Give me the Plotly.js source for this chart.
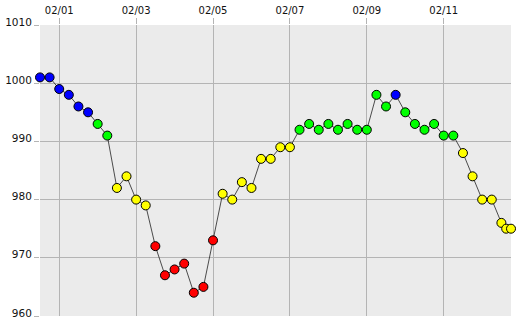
<!DOCTYPE html>
<html>
<head>
<meta charset="utf-8">
<script src="https://cdn.plot.ly/plotly-3.0.1.min.js"></script>
<style>html,body{margin:0;padding:0;background:#fff;}#chart{width:531px;height:326px;}</style>
</head>
<body>
<div id="chart"></div>
<script>
const times = [
  "2020-01-31 12:00","2020-01-31 18:00",
  "2020-02-01 00:00","2020-02-01 06:00","2020-02-01 12:00","2020-02-01 18:00",
  "2020-02-02 00:00","2020-02-02 06:00","2020-02-02 12:00","2020-02-02 18:00",
  "2020-02-03 00:00","2020-02-03 06:00","2020-02-03 12:00","2020-02-03 18:00",
  "2020-02-04 00:00","2020-02-04 06:00","2020-02-04 12:00","2020-02-04 18:00",
  "2020-02-05 00:00","2020-02-05 06:00","2020-02-05 12:00","2020-02-05 18:00",
  "2020-02-06 00:00","2020-02-06 06:00","2020-02-06 12:00","2020-02-06 18:00",
  "2020-02-07 00:00","2020-02-07 06:00","2020-02-07 12:00","2020-02-07 18:00",
  "2020-02-08 00:00","2020-02-08 06:00","2020-02-08 12:00","2020-02-08 18:00",
  "2020-02-09 00:00","2020-02-09 06:00","2020-02-09 12:00","2020-02-09 18:00",
  "2020-02-10 00:00","2020-02-10 06:00","2020-02-10 12:00","2020-02-10 18:00",
  "2020-02-11 00:00","2020-02-11 06:00","2020-02-11 12:00","2020-02-11 18:00",
  "2020-02-12 00:00","2020-02-12 06:00","2020-02-12 12:00","2020-02-12 15:00","2020-02-12 18:00"
];
const pressure = [
  1001,1001,999,998,996,995,993,991,
  982,984,980,979,972,967,968,969,964,965,973,
  981,980,983,982,987,987,989,989,
  992,993,992,993,992,993,992,992,
  998,996,998,995,993,992,993,991,991,
  988,984,980,980,976,975,975
];
const pointColors = [
  "#0000ff","#0000ff","#0000ff","#0000ff","#0000ff","#0000ff","#00ff00","#00ff00",
  "#ffff00","#ffff00","#ffff00","#ffff00","#ff0000","#ff0000","#ff0000","#ff0000","#ff0000","#ff0000","#ff0000",
  "#ffff00","#ffff00","#ffff00","#ffff00","#ffff00","#ffff00","#ffff00","#ffff00",
  "#00ff00","#00ff00","#00ff00","#00ff00","#00ff00","#00ff00","#00ff00","#00ff00",
  "#00ff00","#00ff00","#0000ff","#00ff00","#00ff00","#00ff00","#00ff00","#00ff00","#00ff00",
  "#ffff00","#ffff00","#ffff00","#ffff00","#ffff00","#ffff00","#ffff00"
];
const xRange = ["2020-01-31 12:00","2020-02-12 18:00"];
const yRange = [960,1010];

const trace = {
  x: times, y: pressure, type: "scatter", mode: "lines+markers",
  cliponaxis: false,
  line: {color: "#222222", width: 0.8},
  marker: {size: 9, color: pointColors, line: {color: "#000000", width: 1}},
  hoverinfo: "x+y"
};
const gridC = "#b4b4b4";
const layout = {
  width: 531, height: 326,
  margin: {l: 40, r: 20, t: 25, b: 10},
  paper_bgcolor: "#ffffff", plot_bgcolor: "#ebebeb",
  showlegend: false,
  font: {family: "DejaVu Sans, sans-serif", size: 10.5, color: "#111111"},
  xaxis: {
    type: "date", side: "top", range: xRange,
    tick0: "2020-02-01", dtick: 2*86400000, tickformat: "%m/%d",
    showgrid: true, gridcolor: gridC, gridwidth: 1,
    ticks: "outside", ticklen: 6, tickcolor: gridC, tickwidth: 1,
    showline: false, zeroline: false, fixedrange: true,
    tickfont: {size: 10}
  },
  yaxis: {
    range: yRange, dtick: 10, tick0: 960,
    showgrid: true, gridcolor: gridC, gridwidth: 1,
    ticks: "outside", ticklen: 5, tickcolor: gridC, tickwidth: 1,
    showline: false, zeroline: false, fixedrange: true,
    ticklabelstandoff: 0, ticklabelshift: -3
  }
};
Plotly.newPlot("chart", [trace], layout, {displayModeBar: false, staticPlot: true});
</script>
</body>
</html>
